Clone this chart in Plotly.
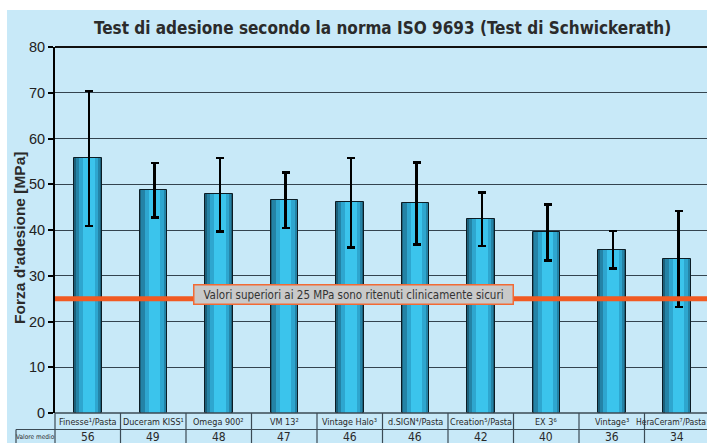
import plotly.graph_objects as go

# ---- data ----
categories = ["Finesse¹/Pasta", "Duceram KISS¹", "Omega 900²", "VM 13²", "Vintage Halo³",
              "d.SIGN⁴/Pasta", "Creation⁵/Pasta", "EX 3⁶", "Vintage³", "HeraCeram⁷/Pasta"]
means = [55.7, 48.7, 47.8, 46.6, 46.1, 45.8, 42.4, 39.5, 35.7, 33.7]
err_high = [70.4, 54.6, 55.7, 52.6, 55.7, 54.8, 48.2, 45.6, 39.8, 44.2]
err_low = [40.9, 42.7, 39.7, 40.4, 36.2, 36.8, 36.5, 33.3, 31.6, 23.2]
mean_labels = ["56", "49", "48", "47", "46", "46", "42", "40", "36", "34"]
threshold = 25
threshold_text = "Valori superiori ai 25 MPa sono ritenuti clinicamente sicuri"
title_text = "Test di adesione secondo la norma ISO 9693 (Test di Schwickerath)"
ytitle = "Forza d'adesione [MPa]"
row_label = "Valore medio"

# ---- geometry ----
W, H = 707, 443
ML, MT, MB, MR = 55, 47, 30, 0
PW, PH = W - ML - MR, H - MT - MB
CAT_PX = 65.5
x_lo = -0.5
x_hi = x_lo + PW / CAT_PX

def px_x(px):
    return (px - ML) / PW

def px_y(py):
    return (H - MB - py) / PH

BG = "#c8e9f8"
NARROW = "Liberation Sans Narrow, DejaVu Sans Condensed, Arial Narrow, sans-serif"
C = dict(xanchor="center", yanchor="middle", showarrow=False)

idx = list(range(len(categories)))
up = [h - m for h, m in zip(err_high, means)]
dn = [m - l for m, l in zip(means, err_low)]

fig = go.Figure()
layers = [
    (-0.21, 0.42, "#1c607a", dict(color="#0c1c24", width=1)),
    (-0.18, 0.37, "#2483a6", dict(width=0)),
    (-0.13, 0.29, "#2ea6cf", dict(width=0)),
    (-0.07, 0.18, "#3bc4ec", dict(width=0)),
]
for i, (off, wd, col, ln) in enumerate(layers):
    last = i == len(layers) - 1
    fig.add_trace(go.Bar(
        x=idx, y=means, offset=off, width=wd,
        marker=dict(color=col, line=ln),
        error_y=dict(type="data", symmetric=False, array=up, arrayminus=dn,
                     color="#000000", thickness=2.5, width=4, visible=last),
        hoverinfo="skip", showlegend=False,
    ))

shapes = []
# light-blue background (white strip top & left)
shapes.append(dict(type="rect", xref="paper", yref="paper", layer="below",
                   x0=px_x(7), x1=px_x(W + 5), y0=px_y(H + 5), y1=px_y(10),
                   fillcolor=BG, line=dict(width=0)))
# top border line at 80
shapes.append(dict(type="line", xref="paper", yref="paper",
                   x0=0, x1=1, y0=1, y1=1, line=dict(color="#111111", width=2)))
# threshold line
shapes.append(dict(type="line", xref="paper", yref="y", layer="above",
                   x0=0, x1=1, y0=threshold, y1=threshold,
                   line=dict(color="#f15a22", width=5)))
# table lines
tcol = "#3b4a55"
shapes.append(dict(type="line", xref="paper", yref="paper",
                   x0=0, x1=1, y0=px_y(413), y1=px_y(413), line=dict(color=tcol, width=1.5)))
shapes.append(dict(type="line", xref="paper", yref="paper",
                   x0=px_x(16), x1=1, y0=px_y(429.5), y1=px_y(429.5), line=dict(color=tcol, width=1.2)))
shapes.append(dict(type="line", xref="paper", yref="paper",
                   x0=px_x(16), x1=px_x(16), y0=px_y(429.5), y1=px_y(H + 5), line=dict(color=tcol, width=1.2)))
shapes.append(dict(type="line", xref="paper", yref="paper",
                   x0=0, x1=0, y0=px_y(413), y1=px_y(H + 5), line=dict(color=tcol, width=1.2)))
for i in idx[:-1]:
    shapes.append(dict(type="line", xref="x", yref="paper",
                       x0=i + 0.5, x1=i + 0.5, y0=px_y(413), y1=px_y(H + 5),
                       line=dict(color=tcol, width=1.2)))

annotations = []
for i, (c, v) in enumerate(zip(categories, mean_labels)):
    shift = -6 if i == len(categories) - 1 else 0
    annotations.append(dict(x=i, y=px_y(421.5), xref="x", yref="paper", text=c, xshift=shift,
                            font=dict(family=NARROW, size=9 if shift == 0 else 8.5, color="#2a2a2a"), **C))
    annotations.append(dict(x=i, y=px_y(437), xref="x", yref="paper", text=v,
                            font=dict(family=NARROW, size=12, color="#2a2a2a"), **C))
annotations.append(dict(x=px_x(35.5), y=px_y(436.5), xref="paper", yref="paper", text=row_label,
                        font=dict(family=NARROW, size=6.5, color="#2a2a2a"), **C))
annotations.append(dict(x=4.06, y=26.0, xref="x", yref="y", text=threshold_text,
                        bgcolor="#c9c9c9", bordercolor="#f26a35",
                        borderwidth=1.5, borderpad=2, width=314,
                        font=dict(family=NARROW, size=11.5, color="#333333"), **C))
annotations.append(dict(x=px_x(382), y=px_y(28), xref="paper", yref="paper", text="<b>" + title_text + "</b>",
                        font=dict(family=NARROW, size=17, color="#2b2b2b"), **C))
annotations.append(dict(x=px_x(19), y=px_y(238), xref="paper", yref="paper", text="<b>" + ytitle + "</b>",
                        textangle=-90,
                        font=dict(family="Liberation Sans, Arial, sans-serif", size=15.5, color="#2b2b2b"), **C))

fig.update_layout(
    width=W, height=H,
    margin=dict(l=ML, r=MR, t=MT, b=MB, pad=0),
    paper_bgcolor="#ffffff", plot_bgcolor=BG,
    barmode="overlay", bargap=0,
    xaxis=dict(range=[x_lo, x_hi], showticklabels=False, showgrid=False, zeroline=False,
               ticks="", showline=False, fixedrange=True),
    yaxis=dict(range=[0, 80], dtick=10, showgrid=True, gridcolor="#34444f", gridwidth=1,
               zeroline=False, showline=True, linecolor="#000000", linewidth=2,
               ticks="outside", ticklen=5, tickwidth=2, tickcolor="#000000",
               tickfont=dict(family="Liberation Sans, Arial, sans-serif", size=14.5, color="#222222"),
               fixedrange=True),
    shapes=shapes, annotations=annotations,
    showlegend=False,
)

fig.write_html("out.html", config={"displayModeBar": False},
               post_script="document.body.style.margin='0';document.body.style.overflow='hidden';")
